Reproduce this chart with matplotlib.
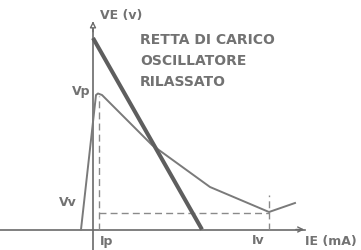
import matplotlib
matplotlib.use("Agg")
import matplotlib.pyplot as plt

# Data (units: arbitrary, origin at axes intersection)
load_x = [0, 109]
load_y = [191.5, 0]

curve_x = [-12, 3, 5, 9, 59, 117, 176, 202]
curve_y = [0, 134.5, 136, 134.5, 84.5, 42.5, 17.5, 26.5]

ip_x = 6
vp_y = 134
iv_x = 176
vv_y = 16.5

title_lines = ["RETTA DI CARICO", "OSCILLATORE", "RILASSATO"]

plt.rcParams['font.family'] = ['DejaVu Sans']

fig = plt.figure(figsize=(3.61, 2.5), dpi=100)
ax = fig.add_axes([0, 0, 1, 1])
ax.set_xlim(-93, 268)
ax.set_ylim(-20.5, 229.5)
ax.axis('off')

axis_col = '#6a6a6a'
# axes with arrows
ax.plot([-93, 212], [0, 0], color=axis_col, lw=1.2)
ax.annotate('', xy=(214, 0), xytext=(200, 0),
            arrowprops=dict(arrowstyle='->', color=axis_col, lw=1.0, mutation_scale=9))
ax.plot([0, 0], [-20.5, 207], color=axis_col, lw=1.2)
ax.annotate('', xy=(0, 211), xytext=(0, 195),
            arrowprops=dict(arrowstyle='-|>', color=axis_col, lw=1.0, mutation_scale=9,
                            fc='white'))

# dashed guides
dash_col = '#8a8a8a'
ax.plot([ip_x, ip_x], [0, vp_y], color=dash_col, lw=1.0, ls=(0, (5, 3)))
ax.plot([ip_x, iv_x], [vv_y, vv_y], color=dash_col, lw=1.0, ls=(0, (5, 3)))
ax.plot([iv_x, iv_x], [0, 34.5], color=dash_col, lw=1.0, ls=(0, (5, 3)))

# characteristic curve
ax.plot(curve_x, curve_y, color='#7a7a7a', lw=1.4, solid_joinstyle='round')
# load line
ax.plot(load_x, load_y, color='#5e5e5e', lw=2.9, solid_capstyle='butt')

txt_col = '#727272'
fs = 9.0
bw = 'bold'
ax.text(7, 214.5, "VE (v)", color=txt_col, fontsize=fs, ha='left', va='center', weight=bw)
ax.text(-3, 137.5, "Vp", color=txt_col, fontsize=fs, ha='right', va='center', weight=bw)
ax.text(-16, 26.5, "Vv", color=txt_col, fontsize=fs, ha='right', va='center', weight=bw)
ax.text(7, -11.5, "Ip", color=txt_col, fontsize=fs, ha='left', va='center', weight=bw)
ax.text(165, -11.5, "Iv", color=txt_col, fontsize=fs, ha='center', va='center', weight=bw)
ax.text(212, -11.5, "IE (mA)", color=txt_col, fontsize=fs, ha='left', va='center', weight=bw)

for i, line in enumerate(title_lines):
    ax.text(47, 189 - i * 20.5, line, color=txt_col, fontsize=10,
            ha='left', va='center', weight=bw)

fig.savefig("out.png", dpi=100)
